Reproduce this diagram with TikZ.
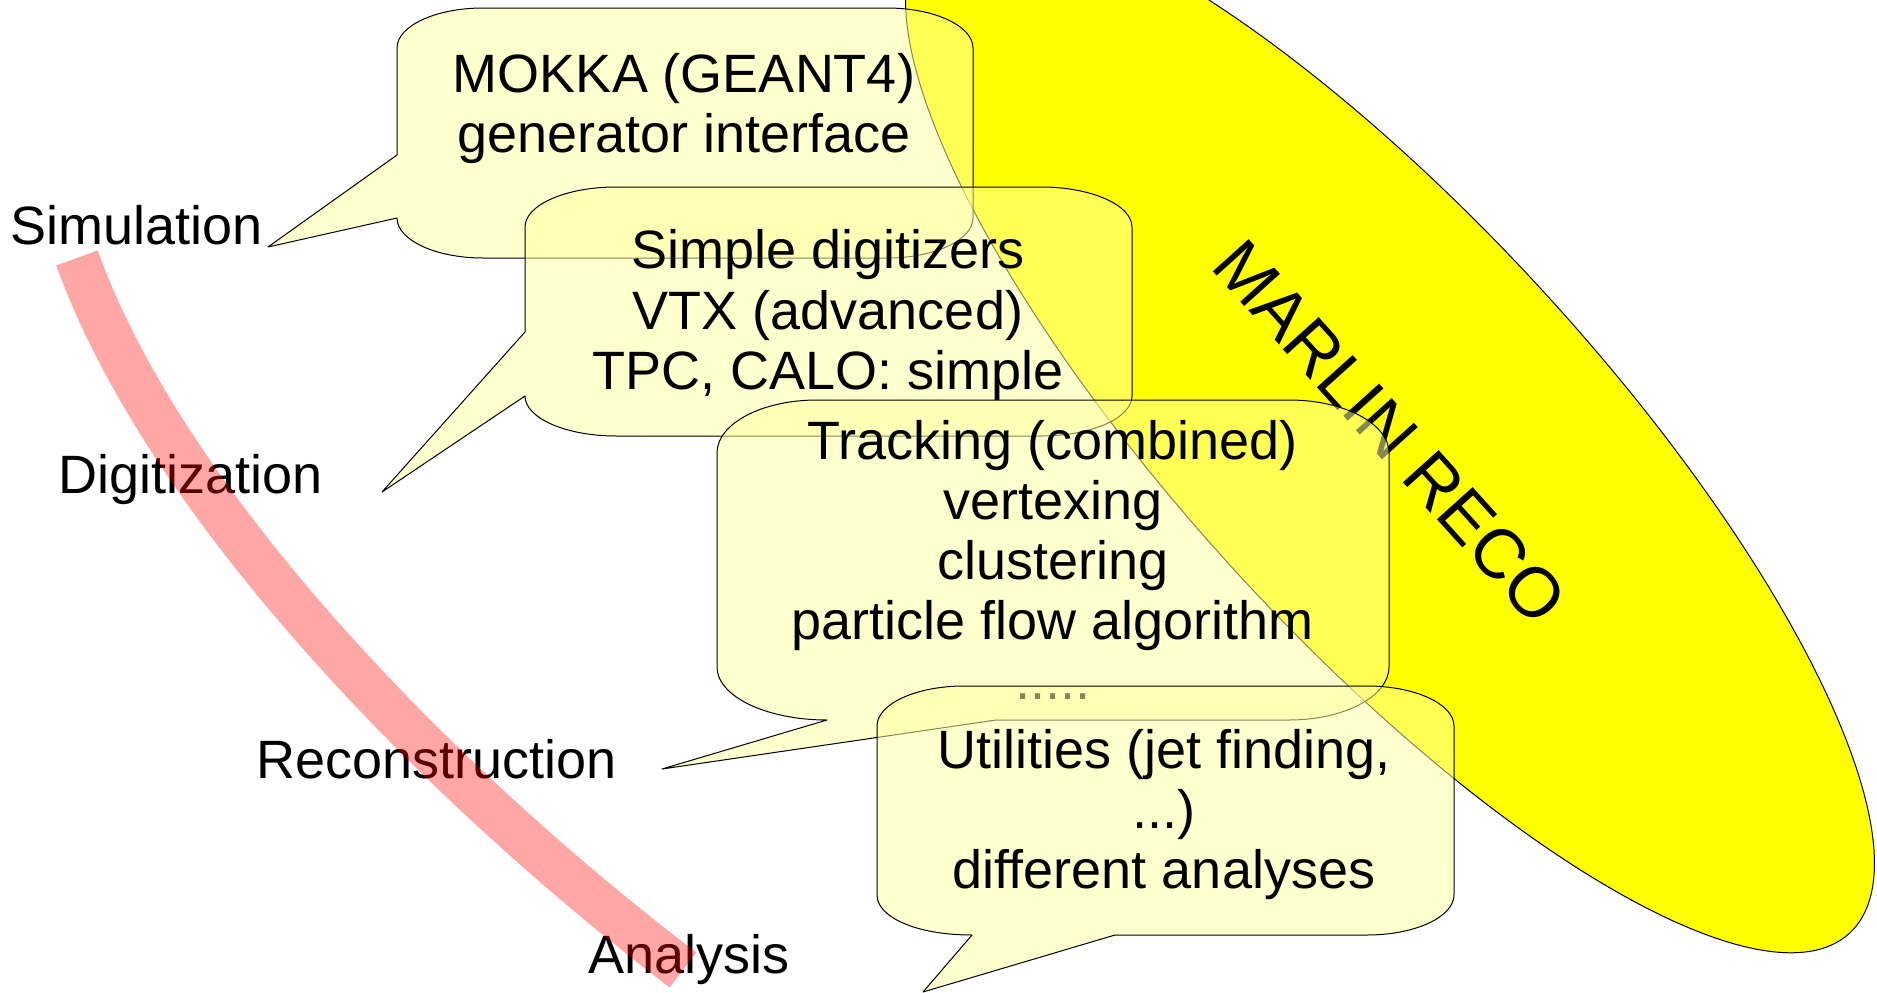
\documentclass[tikz,border=0pt]{standalone}
\usepackage{fontspec}
\setmainfont{Liberation Sans}
\definecolor{callfill}{RGB}{255,255,160}
\definecolor{recoyellow}{RGB}{255,255,0}
\begin{document}
\begin{tikzpicture}[x=1pt,y=-1pt,
  txt/.style={font=\fontsize{54}{60}\selectfont, inner sep=0pt, anchor=base},
  lbl/.style={font=\fontsize{54}{60}\selectfont, inner sep=0pt, anchor=base west},
  callout/.style={fill=callfill, fill opacity=0.53, draw=black, line width=1pt, line join=round},
  flow/.style={draw=red, draw opacity=0.35, line width=44pt, line cap=butt},
  recofill/.style={fill=recoyellow, draw=black, line width=1pt}]
\useasboundingbox (0,0) rectangle (1877,993);
\clip (0,0) rectangle (1877,993);

% MARLIN RECO ellipse
\path[recofill, rotate around={-47.5:(1390,432)}] (1390,432) ellipse [x radius=680, y radius=208];
\node[font=\fontsize{70}{80}\selectfont, rotate=-48, inner sep=0pt] (marlin) at (1390,432) {MARLIN RECO};

% stage labels
\node[lbl] (sim) at (10,244) {Simulation};
\node[lbl] (dig) at (58,493) {Digitization};
\node[lbl] (rec) at (256,778) {Reconstruction};
\node[lbl] (ana) at (588,973) {Analysis};

% callout 1
\path[callout] (483,8) -- (887,8) .. controls (934.5,8) and (973,26) .. (973,48) -- (973,218)
  .. controls (973,240) and (934.5,258) .. (887,258) -- (483,258)
  .. controls (435.5,258) and (397,240) .. (397,218) -- (268,247) -- (397,155) -- (397,48)
  .. controls (397,26) and (435.5,8) .. (483,8) -- cycle;
\node[txt] (c1a) at (684,92) {MOKKA (GEANT4)};
\node[txt] (c1b) at (684,152) {generator interface};

% callout 2
\path[callout] (616,187) -- (1041,187) .. controls (1091.2,187) and (1132,205) .. (1132,227) -- (1132,396)
  .. controls (1132,418) and (1091.2,436) .. (1041,436) -- (616,436)
  .. controls (565.8,436) and (525,418) .. (525,396) -- (382,492) -- (525,332) -- (525,227)
  .. controls (525,205) and (565.8,187) .. (616,187) -- cycle;
\node[txt] (c2a) at (828,268) {Simple digitizers};
\node[txt] (c2b) at (828,329) {VTX (advanced)};
\node[txt] (c2c) at (828,389) {TPC, CALO: simple};

% callout 3
\path[callout] (817,400) -- (1289,400) .. controls (1344.2,400) and (1389,423.7) .. (1389,453) -- (1389,667)
  .. controls (1389,696.3) and (1344.2,720) .. (1289,720) -- (996,720) -- (662,769) -- (827,720)
  .. controls (766.3,720) and (717,696.3) .. (717,667) -- (717,453)
  .. controls (717,423.7) and (761.8,400) .. (817,400) -- cycle;
\node[txt] (c3a) at (1053,459) {Tracking (combined)};
\node[txt] (c3b) at (1053,519) {vertexing};
\node[txt] (c3c) at (1053,579) {clustering};
\node[txt] (c3d) at (1053,639) {particle flow algorithm};
\node[txt] (c3e) at (1053,699) {.....};

% callout 4
\path[callout] (964,686) -- (1367,686) .. controls (1415,686) and (1454,704) .. (1454,726) -- (1454,895)
  .. controls (1454,917) and (1415,935) .. (1367,935) -- (1115,935) -- (923,992) -- (972,935)
  .. controls (916,935) and (877,917) .. (877,895) -- (877,726)
  .. controls (877,704) and (916,686) .. (964,686) -- cycle;
\node[txt] (c4a) at (1164,768) {Utilities (jet finding,};
\node[txt] (c4b) at (1164,828) {...)};
\node[txt] (c4c) at (1164,888) {different analyses};

% flow band
\draw[flow] (77,258) .. controls (167,508) and (444,788) .. (683,970);
\end{tikzpicture}
\end{document}
